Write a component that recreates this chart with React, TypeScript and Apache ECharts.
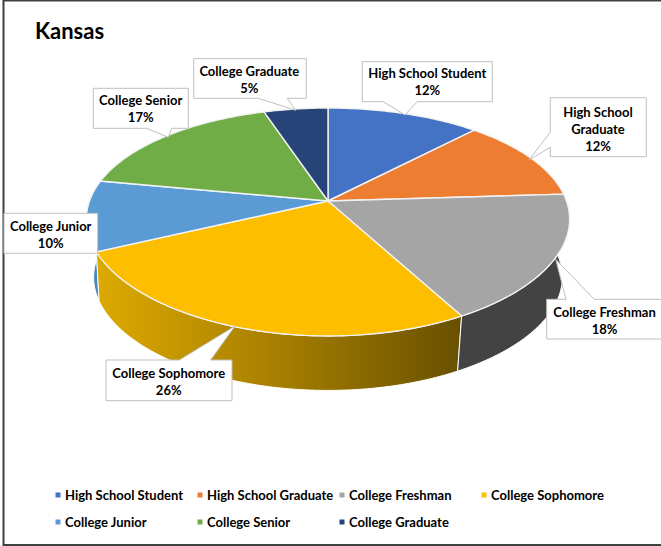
import React, { useEffect, useRef } from "react";
import * as echarts from "echarts";

const titleText = "Kansas";
const categories = [
  "High School Student",
  "High School Graduate",
  "College Freshman",
  "College Sophomore",
  "College Junior",
  "College Senior",
  "College Graduate",
];
const shares = [12, 12, 18, 26, 10, 17, 5];
const labelLines = [
  ["High School Student"],
  ["High School", "Graduate"],
  ["College Freshman"],
  ["College Sophomore"],
  ["College Junior"],
  ["College Senior"],
  ["College Graduate"],
];
const topColors = ["#4472C4", "#ED7D31", "#A5A5A5", "#FDBE00", "#5B9BD5", "#70AD47", "#264478"];

const FONT = "Lato, 'Noto Sans', sans-serif";

// projection of the tilted pie
const CX = 328;
const CY = 201;
const A = 238.5;
const B = 110.1;
const PX = 0.16;
const PY = 0.1842;
const BOTTOM_CY = 259.5;
const BOTTOM_SCALE = 0.97;

const total = shares.reduce((s, v) => s + v, 0);
function startShare(i: number) {
  let s = 0;
  for (let k = 0; k < i; k++) s += shares[k];
  return s;
}
function rim(thetaIn: number, bottom: boolean): [number, number] {
  // the lower rim leans inward on the left, as the perspective converges
  const bend = bottom ? Math.max(0, thetaIn - 2.64) * 0.043 : 0;
  const theta = thetaIn + Math.min(bend, 0.07);
  const u = Math.sin(theta);
  const v = Math.cos(theta);
  const k = bottom ? BOTTOM_SCALE : 1;
  const c = bottom ? BOTTOM_CY : CY;
  return [CX + (k * A * u) / (1 + PX * v), c - (k * B * v) / (1 + PY * v)];
}
function arc(i: number, bottom: boolean) {
  const a0 = (startShare(i) / total) * Math.PI * 2;
  const a1 = ((startShare(i) + shares[i]) / total) * Math.PI * 2;
  const n = Math.max(2, Math.ceil((a1 - a0) / 0.015));
  const pts: [number, number][] = [];
  for (let j = 0; j <= n; j++) pts.push(rim(a0 + ((a1 - a0) * j) / n, bottom));
  return pts;
}

// callout outlines and text anchors (layout)
const callouts = [
  { text: [427.3, 81.5], pts: [[362.3, 61.7], [492.3, 61.7], [492.3, 101.7], [417.3, 101.7], [405, 115], [383.3, 101.7], [362.3, 101.7]] },
  { text: [598, 128.5], pts: [[550.3, 97.7], [646.3, 97.7], [646.3, 156.7], [550.3, 156.7], [550.3, 147.3], [529, 160], [550.3, 132.3]] },
  { text: [604.5, 320], pts: [[546.7, 299.3], [566, 299.3], [555.7, 259.3], [594.3, 299.3], [664, 299.3], [664, 339], [546.7, 339]] },
  { text: [168.7, 381.5], pts: [[106, 360], [179.3, 360], [235, 326], [210.7, 360], [232, 360], [232, 400.7], [106, 400.7]] },
  { text: [50.7, 234], pts: [[4, 213.3], [97.7, 213.3], [97.7, 253.3], [4, 253.3]] },
  { text: [140.7, 108.5], pts: [[93.3, 88.3], [188.3, 88.3], [188.3, 128.3], [171.7, 128.3], [168.3, 137.3], [146.7, 128.3], [93.3, 128.3]] },
  { text: [249.3, 79], pts: [[193.7, 58.7], [306.3, 58.7], [306.3, 98.3], [287.3, 98.3], [295.7, 110.3], [258.3, 98.3], [193.7, 98.3]] },
];

const legendCols = [58, 200, 342, 484];
const legendRows = [495, 522];

function sideFill(i: number): any {
  if (i === 3)
    return new echarts.graphic.LinearGradient(
      95, 0, 462, 0,
      [
        { offset: 0, color: "#DDAA00" },
        { offset: 0.5, color: "#A67E00" },
        { offset: 1, color: "#685000" },
      ],
      true
    );
  if (i === 2) return "#434343";
  if (i === 4) return "#4A87C2";
  return topColors[i];
}

export default function App() {
  const ref = useRef<HTMLDivElement>(null);
  useEffect(() => {
    if (!ref.current) return;
    const chart = echarts.init(ref.current, undefined, { renderer: "svg" });
    const data = shares.map((v, i) => [v, i]);
    const legendGraphics: any[] = [];
    categories.forEach((name, i) => {
      const col = legendCols[i < 4 ? i : i - 4];
      const row = legendRows[i < 4 ? 0 : 1];
      legendGraphics.push({
        type: "rect",
        shape: { x: col - 2.5, y: row - 2.5, width: 5, height: 5 },
        style: { fill: topColors[i] },
        silent: true,
      });
      legendGraphics.push({
        type: "text",
        x: col + 7,
        y: row,
        style: {
          text: name,
          fill: "#000",
          font: `bold 13px ${FONT}`,
          textAlign: "left",
          textVerticalAlign: "middle",
        },
        silent: true,
      });
    });

    chart.setOption({
      animation: false,
      backgroundColor: "#fff",
      title: {
        text: titleText,
        left: 30,
        top: 14,
        textStyle: { fontFamily: FONT, fontWeight: "bold", fontSize: 22, color: "#000" },
      },
      graphic: [
        {
          type: "rect",
          z: -1,
          shape: { x: 3.5, y: 0.5, width: 662, height: 544.5 },
          style: { fill: "none", stroke: "#404040", lineWidth: 2 },
          silent: true,
        },
        ...legendGraphics,
      ],
      series: [
        {
          type: "custom",
          name: "sides",
          coordinateSystem: "none",
          z: 1,
          silent: true,
          data: [data[4], data[5], data[6], data[0], data[1], data[3], data[2]],
          renderItem: (_p: any, api: any) => {
            const i = api.value(1);
            if (![2, 3, 4].includes(i)) return { type: "group", children: [] };
            const points = [...arc(i, false), ...arc(i, true).reverse()];
            return {
              type: "polygon",
              shape: { points },
              style: { fill: sideFill(i), stroke: "#FFFFFF", lineWidth: 1 },
            };
          },
        },
        {
          type: "custom",
          name: "tops",
          coordinateSystem: "none",
          z: 2,
          silent: true,
          data,
          renderItem: (_p: any, api: any) => {
            const i = api.value(1);
            const points = [[CX, CY], ...arc(i, false)];
            return {
              type: "polygon",
              shape: { points },
              style: { fill: topColors[i], stroke: "#F2F2F2", lineWidth: 1.4 },
            };
          },
        },
        {
          type: "custom",
          name: "labels",
          coordinateSystem: "none",
          z: 3,
          silent: true,
          data,
          renderItem: (_p: any, api: any) => {
            const i = api.value(1);
            const c = callouts[i];
            return {
              type: "group",
              children: [
                {
                  type: "polygon",
                  shape: { points: c.pts },
                  style: { fill: "#FFFFFF", stroke: "#BFBFBF", lineWidth: 1 },
                },
                {
                  type: "text",
                  x: c.text[0],
                  y: c.text[1],
                  style: {
                    text: [...labelLines[i], `${api.value(0)}%`].join("\n"),
                    fill: "#000",
                    font: `bold 13px ${FONT}`,
                    lineHeight: 17,
                    textAlign: "center",
                    textVerticalAlign: "middle",
                  },
                },
              ],
            };
          },
        },
      ],
    });
    return () => chart.dispose();
  }, []);
  return (
    <div
      ref={ref}
      style={{ position: "absolute", left: 0, top: 0, width: 661, height: 546 }}
    />
  );
}
